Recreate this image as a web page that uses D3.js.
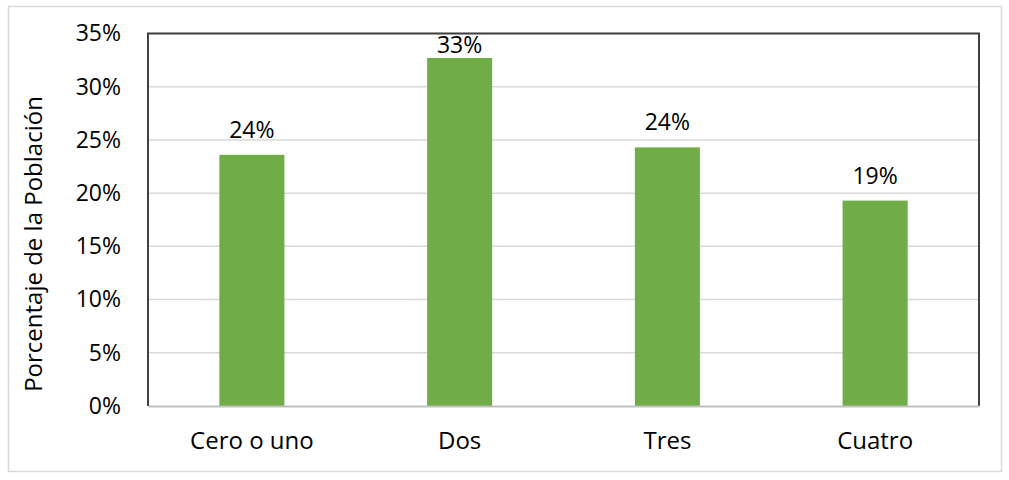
<!DOCTYPE html>
<html>
<head>
<meta charset="utf-8">
<script src="https://cdn.jsdelivr.net/npm/d3@7"></script>
<style>
  body { margin: 0; background: #fff; }
  text { font-family: "Open Sans", sans-serif; fill: #000; }
</style>
</head>
<body>
<div id="chart"></div>
<script>
// data
var categories = ["Cero o uno", "Dos", "Tres", "Cuatro"];
var values = [23.6, 32.7, 24.3, 19.3];
var yTicks = [0, 5, 10, 15, 20, 25, 30, 35];

var width = 1009;
var height = 480;
var plot = { left: 148, right: 979, top: 33.5, bottom: 406 };

var svg = d3.select("#chart").append("svg")
  .attr("width", width)
  .attr("height", height);

// outer chart frame
svg.append("rect")
  .attr("x", 8.5).attr("y", 6.5)
  .attr("width", 993).attr("height", 465)
  .attr("fill", "#fff")
  .attr("stroke", "#d9d9d9")
  .attr("stroke-width", 1.5);

var x = d3.scaleBand()
  .domain(categories)
  .range([plot.left, plot.right])
  .paddingInner(0.687)
  .paddingOuter(0.3435);

var y = d3.scaleLinear()
  .domain([0, 35])
  .range([plot.bottom, plot.top]);

//gridlines
svg.append("g")
  .selectAll("line")
  .data(yTicks.slice(1))
  .join("line")
  .attr("x1", plot.left).attr("x2", plot.right)
  .attr("y1", function(d) { return y(d); })
  .attr("y2", function(d) { return y(d); })
  .attr("stroke", "#d9d9d9")
  .attr("stroke-width", 1.5);

//bars
svg.append("g")
  .selectAll("rect")
  .data(values)
  .join("rect")
  .attr("x", function(d, i) { return x(categories[i]); })
  .attr("y", function(d) { return y(d); })
  .attr("width", x.bandwidth())
  .attr("height", function(d) { return y(0) - y(d); })
  .attr("fill", "#70ad47");

//plot frame: dark top/left/right, gray bottom
svg.append("path")
  .attr("d", "M" + plot.left + "," + plot.bottom + "V" + plot.top + "H" + plot.right + "V" + plot.bottom)
  .attr("fill", "none")
  .attr("stroke", "#404040")
  .attr("stroke-width", 2);

//y axis labels
var yAxis = svg.append("g")
  .attr("transform", "translate(" + plot.left + ",0)")
  .call(d3.axisLeft(y).tickValues(yTicks).tickFormat(function(d) { return d + "%"; }).tickSize(0).tickPadding(27));
yAxis.select(".domain").remove();
yAxis.selectAll("text")
  .style("font-family", "'Open Sans', sans-serif")
  .style("font-size", "23px")
  .attr("fill", "#000");

//x axis
var xAxis = svg.append("g")
  .attr("transform", "translate(0," + plot.bottom + ")")
  .call(d3.axisBottom(x).tickSize(0).tickPadding(26));
xAxis.select(".domain")
  .attr("stroke", "#bfbfbf")
  .attr("stroke-width", 2);
xAxis.selectAll("text")
  .style("font-family", "'Open Sans', sans-serif")
  .style("font-size", "24px")
  .attr("fill", "#000");

//value labels, kept inside the plot area like excel does
svg.append("g")
  .selectAll("text")
  .data(values)
  .join("text")
  .attr("x", function(d, i) { return x(categories[i]) + x.bandwidth() / 2; })
  .attr("y", function(d) { return Math.max(y(d) - 17, 53); })
  .attr("text-anchor", "middle")
  .style("font-size", "23px")
  .text(function(d) { return Math.round(d) + "%"; });

//y title
svg.append("text")
  .attr("transform", "translate(42,244) rotate(-90)")
  .attr("text-anchor", "middle")
  .style("font-size", "24px")
  .text("Porcentaje de la Población");
</script>
</body>
</html>
